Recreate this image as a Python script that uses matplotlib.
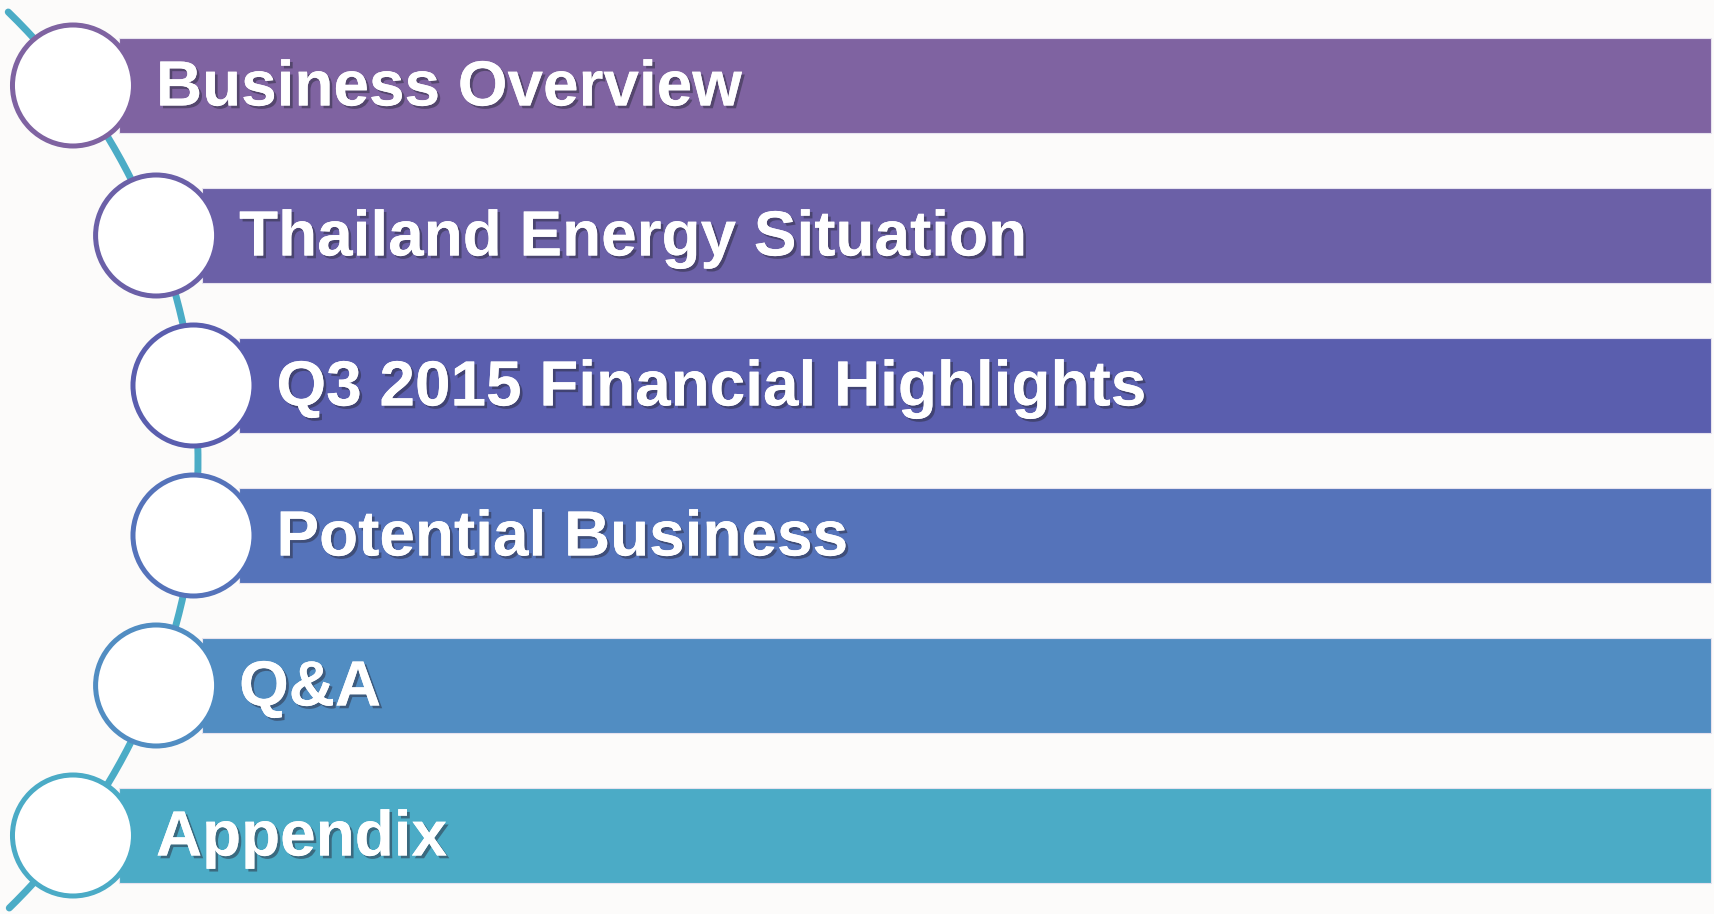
import numpy as np
import matplotlib.pyplot as plt
from matplotlib.patches import Rectangle, Circle
import matplotlib.patheffects as pe

###   DONNEES   ###

labels = ["Business Overview", "Thailand Energy Situation", "Q3 2015 Financial Highlights",
          "Potential Business", "Q&A", "Appendix"]
couleurs = ["#7F63A1", "#6B60A7", "#5A5EAE", "#5573BA", "#518DC2", "#4BABC6"]
fond = "#FCFBFA"
ligne = "#4BACC6"

###   GEOMETRIE   ###

W, H = 1715, 914
pas = 150
haut_barre = 95
y0 = 85.5
rayon = 60.5
# arc qui passe par les centres des cercles
arc_cx, arc_cy, arc_r = -426.9, 460.5, 624.9

fig = plt.figure(figsize=(W / 100, H / 100), dpi=100)
fig.patch.set_facecolor(fond)
ax = fig.add_axes([0, 0, 1, 1])
ax.set_xlim(0, W)
ax.set_ylim(H, 0)
ax.axis('off')

# arc de liaison
t = np.linspace(np.arcsin((12 - arc_cy) / arc_r), np.arcsin((908 - arc_cy) / arc_r), 300)
ax.plot(arc_cx + arc_r * np.cos(t), arc_cy + arc_r * np.sin(t), color=ligne, lw=5,
        solid_capstyle='round', zorder=1)

for i, (lab, c) in enumerate(zip(labels, couleurs)):
    yc = y0 + i * pas
    xc = arc_cx + np.sqrt(arc_r ** 2 - (yc - arc_cy) ** 2)
    # barre
    ax.add_patch(Rectangle((xc + 46, yc - haut_barre / 2), W - 4 - (xc + 46), haut_barre,
                           facecolor=c, edgecolor='#E6E2EE', lw=0.8, zorder=2))
    # cercle
    ax.add_patch(Circle((xc, yc), rayon, facecolor='white', edgecolor=c, lw=3.6, zorder=3))
    # texte
    ax.text(xc + 83, yc + 20, lab, color='white', fontsize=46, fontweight='bold',
            family='Liberation Sans', va='baseline', ha='left', zorder=4,
            path_effects=[pe.withSimplePatchShadow(offset=(2, -2), shadow_rgbFace='#2a2a3a', alpha=0.5),
                          pe.Normal()])

fig.savefig("out.png", dpi=100, facecolor=fond)
